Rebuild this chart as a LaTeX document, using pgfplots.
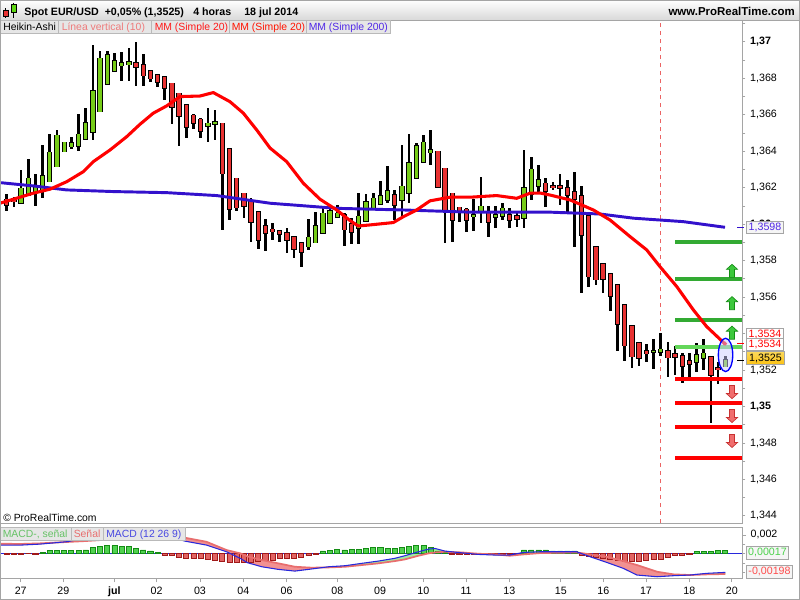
\documentclass[border=0pt]{standalone}
\usepackage{pgfplots}
\pgfplotsset{compat=1.18}
\usepackage{pgfplotstable}
\usepackage{fontspec}
\setmainfont{Liberation Sans}

\definecolor{hagreen}{RGB}{118,204,24}
\definecolor{hared}{RGB}{232,50,50}
\definecolor{mablue}{RGB}{51,17,204}
\definecolor{lgreen}{RGB}{51,170,51}
\definecolor{lgreen2}{RGB}{100,215,90}
\definecolor{axgray}{RGB}{165,165,165}
\definecolor{vline}{RGB}{235,100,100}
\definecolor{boxfill}{RGB}{230,230,230}
\definecolor{boxgray}{RGB}{185,185,185}
\definecolor{macdblue}{RGB}{40,40,220}
\definecolor{sigred}{RGB}{232,110,110}
\definecolor{pinkfill}{RGB}{242,145,145}
\definecolor{greenfill}{RGB}{160,235,160}
\definecolor{hgdark}{RGB}{20,140,20}
\definecolor{hglight}{RGB}{80,210,80}
\definecolor{hrdark}{RGB}{160,25,25}
\definecolor{hrlight}{RGB}{225,100,100}
\definecolor{arrgreen}{RGB}{60,200,60}
\definecolor{arrgreendk}{RGB}{20,140,20}
\definecolor{arrred}{RGB}{240,110,110}
\definecolor{arrreddk}{RGB}{200,50,50}
\definecolor{violettxt}{RGB}{80,40,230}
\definecolor{gold}{RGB}{250,200,20}

\pgfdeclareplotmark{uparr}{%
  \pgfpathmoveto{\pgfqpoint{0pt}{4.9pt}}%
  \pgfpathlineto{\pgfqpoint{4.2pt}{1.1pt}}%
  \pgfpathlineto{\pgfqpoint{1.9pt}{1.1pt}}%
  \pgfpathlineto{\pgfqpoint{1.9pt}{-4.9pt}}%
  \pgfpathlineto{\pgfqpoint{-1.9pt}{-4.9pt}}%
  \pgfpathlineto{\pgfqpoint{-1.9pt}{1.1pt}}%
  \pgfpathlineto{\pgfqpoint{-4.2pt}{1.1pt}}%
  \pgfpathclose\pgfusepathqfillstroke}
\pgfdeclareplotmark{dnarr}{%
  \pgfpathmoveto{\pgfqpoint{0pt}{-4.9pt}}%
  \pgfpathlineto{\pgfqpoint{4.2pt}{-1.1pt}}%
  \pgfpathlineto{\pgfqpoint{1.9pt}{-1.1pt}}%
  \pgfpathlineto{\pgfqpoint{1.9pt}{4.9pt}}%
  \pgfpathlineto{\pgfqpoint{-1.9pt}{4.9pt}}%
  \pgfpathlineto{\pgfqpoint{-1.9pt}{-1.1pt}}%
  \pgfpathlineto{\pgfqpoint{-4.2pt}{-1.1pt}}%
  \pgfpathclose\pgfusepathqfillstroke}
\pgfdeclareplotmark{ell}{%
  \pgfpathellipse{\pgfpointorigin}{\pgfqpoint{5.4pt}{0pt}}{\pgfqpoint{0pt}{12.5pt}}%
  \pgfusepathqfillstroke}

% Heikin-Ashi candles: index, open, high, low, close
\pgfplotstableread{
i o h l c
3 1.36118 1.36298 1.36115 1.36197
4 1.36161 1.36356 1.36155 1.36252
5 1.36179 1.36274 1.36102 1.36206
6 1.36179 1.36435 1.36146 1.36265
7 1.36234 1.36495 1.36234 1.36395
8 1.36316 1.36517 1.36316 1.36488
9 1.36398 1.36453 1.36395 1.36449
10 1.36426 1.36477 1.36413 1.36448
11 1.36431 1.36605 1.36404 1.36493
12 1.36466 1.36636 1.36462 1.36554
13 1.36508 1.36983 1.36462 1.36731
14 1.36618 1.36950 1.36618 1.36910
15 1.36768 1.36950 1.36768 1.36928
16 1.36842 1.36943 1.36842 1.36897
17 1.36870 1.36943 1.36788 1.36885
18 1.36875 1.36970 1.36786 1.36890
29 1.36541 1.36641 1.36453 1.36554
30 1.36548 1.36627 1.36462 1.36561
43 1.35877 1.36027 1.35859 1.35928
44 1.35899 1.36065 1.35899 1.35992
45 1.35950 1.36096 1.35950 1.36060
46 1.36005 1.36100 1.36005 1.36073
47 1.36038 1.36104 1.36038 1.36060
50 1.35978 1.36175 1.35892 1.36045
51 1.36018 1.36166 1.36014 1.36124
52 1.36082 1.36175 1.36078 1.36142
53 1.36111 1.36237 1.36111 1.36157
54 1.36133 1.36320 1.36115 1.36182
56 1.36133 1.36435 1.36042 1.36208
57 1.36170 1.36493 1.36115 1.36338
58 1.36252 1.36448 1.36252 1.36429
59 1.36340 1.36493 1.36340 1.36449
60 1.36394 1.36517 1.36325 1.36411
66 1.36042 1.36139 1.35965 1.36051
67 1.36067 1.36261 1.36005 1.36100
69 1.36038 1.36100 1.35978 1.36051
70 1.36045 1.36115 1.36023 1.36087
73 1.36032 1.36407 1.35978 1.36197
74 1.36164 1.36367 1.36133 1.36301
75 1.36210 1.36325 1.36170 1.36243
91 1.35299 1.35369 1.35204 1.35307
92 1.35298 1.35405 1.35274 1.35314
97 1.35243 1.35347 1.35191 1.35283
98 1.35265 1.35369 1.35201 1.35292
101 1.35219 1.35277 1.35219 1.35255
}\greencandles

\pgfplotstableread{
i o h l c
1 1.36137 1.36166 1.36075 1.36106
2 1.36142 1.36151 1.36097 1.36124
19 1.36885 1.36998 1.36760 1.36861
20 1.36874 1.36934 1.36760 1.36815
21 1.36844 1.36846 1.36782 1.36800
22 1.36822 1.36822 1.36751 1.36782
23 1.36808 1.36813 1.36682 1.36746
24 1.36773 1.36777 1.36550 1.36645
25 1.36718 1.36722 1.36431 1.36594
26 1.36658 1.36660 1.36475 1.36535
27 1.36599 1.36603 1.36523 1.36554
28 1.36576 1.36581 1.36475 1.36513
31 1.36554 1.36554 1.35968 1.36279
32 1.36416 1.36422 1.36023 1.36084
33 1.36252 1.36256 1.36073 1.36091
34 1.36170 1.36173 1.36033 1.36100
35 1.36128 1.36142 1.35905 1.36011
36 1.36066 1.36069 1.35864 1.35914
37 1.35990 1.36029 1.35855 1.35950
38 1.35972 1.36005 1.35917 1.35959
39 1.35965 1.35969 1.35905 1.35947
40 1.35954 1.35978 1.35844 1.35914
41 1.35932 1.35936 1.35817 1.35864
42 1.35899 1.35905 1.35767 1.35846
48 1.36051 1.36060 1.35882 1.35972
49 1.36005 1.36032 1.35892 1.35958
55 1.36160 1.36188 1.36023 1.36106
61 1.36400 1.36404 1.36206 1.36206
62 1.36307 1.36307 1.35895 1.36078
63 1.36170 1.36173 1.35905 1.36023
64 1.36093 1.36096 1.36014 1.36069
65 1.36082 1.36087 1.35956 1.36023
68 1.36064 1.36100 1.35928 1.36014
71 1.36051 1.36091 1.35978 1.36023
72 1.36045 1.36069 1.35987 1.36029
76 1.36224 1.36252 1.36096 1.36182
77 1.36210 1.36234 1.36188 1.36202
78 1.36210 1.36276 1.36106 1.36197
79 1.36201 1.36246 1.36056 1.36160
80 1.36179 1.36285 1.35877 1.36137
81 1.36157 1.36210 1.35625 1.35941
82 1.36047 1.36051 1.35654 1.35713
83 1.35877 1.35881 1.35667 1.35698
84 1.35782 1.35786 1.35625 1.35698
85 1.35727 1.35731 1.35526 1.35607
86 1.35667 1.35670 1.35307 1.35453
87 1.35557 1.35561 1.35252 1.35334
88 1.35442 1.35446 1.35213 1.35274
89 1.35352 1.35356 1.35223 1.35265
90 1.35307 1.35343 1.35246 1.35292
93 1.35307 1.35356 1.35164 1.35270
94 1.35288 1.35332 1.35173 1.35270
95 1.35277 1.35296 1.35127 1.35223
96 1.35250 1.35296 1.35160 1.35233
99 1.35274 1.35277 1.34912 1.35173
100 1.35215 1.35246 1.35127 1.35204
}\redcandles

% MM (Simple 20)
\pgfplotstableread{
x y
0.07 1.36115
4.70 1.36170
7.03 1.36192
9.35 1.36233
11.66 1.36288
13.05 1.36343
15.38 1.36407
17.70 1.36480
19.55 1.36548
21.40 1.36609
23.27 1.36649
25.12 1.36700
27.90 1.36703
29.75 1.36722
32.07 1.36672
33.93 1.36609
35.79 1.36517
37.64 1.36418
39.96 1.36343
42.27 1.36225
44.60 1.36137
46.92 1.36078
48.77 1.36020
49.93 1.35990
51.56 1.35996
54.80 1.36009
56.19 1.36041
58.05 1.36078
59.90 1.36128
62.69 1.36148
65.47 1.36148
69.19 1.36157
71.97 1.36142
73.82 1.36170
75.22 1.36171
76.60 1.36160
79.40 1.36133
82.63 1.36078
84.96 1.36023
87.74 1.35932
90.06 1.35859
91.91 1.35767
94.24 1.35658
96.55 1.35530
98.41 1.35438
100.72 1.35352
100.96 1.35340
}\mmtwenty

% MM (Simple 200)
\pgfplotstableread{
x y
0.07 1.36228
4.70 1.36210
9.35 1.36188
15.83 1.36179
23.27 1.36173
30.22 1.36157
37.64 1.36115
46.92 1.36087
56.19 1.36078
65.47 1.36066
76.60 1.36066
83.56 1.36056
88.20 1.36033
95.15 1.36014
100.96 1.35983
}\mmtwohundred

% MACD (12 26 9)
\pgfplotstableread{
x y
0.07 0.00092
3 0.00092
5.6 0.00102
9.4 0.00128
12 0.00165
15 0.00212
18 0.00238
21 0.00225
23 0.00195
25.8 0.00134
28.8 0.00092
31.6 0.00021
33.5 -0.00049
34.5 -0.00095
36.5 -0.00138
38.8 -0.00166
41.1 -0.00184
43.4 -0.00162
45.8 -0.00138
48.1 -0.00127
50.4 -0.00102
52.7 -0.00078
55.0 -0.00049
56.4 -0.00021
58.3 0.00021
59.7 0.00049
60.6 0.00056
62.0 0.00028
64.3 0.00010
66.6 -0.00007
69.0 -0.00014
71.0 -0.00014
72.9 0.00014
75.2 0.00021
80.3 0.00021
82.2 -0.00032
84.5 -0.00092
86.8 -0.00155
88.7 -0.00226
91.5 -0.00244
93.8 -0.00233
96.1 -0.00226
98.4 -0.00208
101 -0.00198
}\macdline

% Signal
\pgfplotstableread{
x y
0.07 0.00106
3 0.00104
5.6 0.00110
9.4 0.00125
12 0.00135
15 0.00150
18 0.00170
21 0.00185
23 0.00188
25.8 0.00170
28.8 0.00127
31.6 0.00039
33.5 0.00004
34.5 -0.00028
36.5 -0.00067
38.8 -0.00102
41.1 -0.00138
43.4 -0.00148
45.8 -0.00145
48.1 -0.00138
50.4 -0.00120
52.7 -0.00102
55.0 -0.00078
56.4 -0.00060
58.3 -0.00021
59.7 0.00004
60.6 0.00014
62.0 0.00021
64.3 0.00014
66.6 0.00000
69.0 -0.00007
71.0 -0.00021
72.9 -0.00007
75.2 0.00007
80.3 0.00014
82.2 -0.00007
84.5 -0.00032
86.8 -0.00078
88.7 -0.00120
91.5 -0.00191
93.8 -0.00219
96.1 -0.00226
98.4 -0.00219
101 -0.00215
}\signalline

% MACD - signal histogram
\pgfplotstableread{
x y
1 -0.00007
2 -0.00007
3 -0.00007
4 0
5 -0.0001
6 0.0001
7 0.00035
8 0.00035
9 0.00035
10 0.00035
11 0.00035
12 0.0004
13 0.00064
14 0.0008
15 0.00085
16 0.00085
17 0.0008
18 0.0008
19 0.00056
20 0.0004
21 0.0003
22 0.0001
23 -0.0002
24 -0.0002
25 -0.0004
26 -0.0005
27 -0.0005
28 -0.0005
29 -0.0006
30 -0.00067
31 -0.00085
32 -0.0009
33 -0.0009
34 -0.0009
35 -0.0009
36 -0.00085
37 -0.00067
38 -0.00067
39 -0.0005
40 -0.0005
41 -0.0005
42 -0.0004
43 -0.0002
44 -0.0001
45 0.0003
46 0.00035
47 0.00046
48 0.0004
49 0.00042
50 0.0005
51 0.00056
52 0.00064
53 0.00064
54 0.00056
55 0.00056
56 0.00067
57 0.00074
58 0.00085
59 0.00085
60 0.0007
61 0.0003
62 0.0001
63 -0.0001
64 -0.0001
65 -0.0001
66 -0.0001
67 -0.0001
68 -0.0001
69 -0.0001
70 -0.0001
71 -0.0001
72 -0.00005
73 0.0004
74 0.0004
75 0.0004
76 0.0004
77 0.0003
78 0.0003
79 0.0003
80 0.0003
81 -0.0002
82 -0.0003
83 -0.0004
84 -0.0005
85 -0.0006
86 -0.0007
87 -0.00078
88 -0.00085
89 -0.00078
90 -0.0007
91 -0.00064
92 -0.00056
93 -0.0004
94 -0.0002
95 -0.00014
96 -0.0001
97 0.00028
98 0.00028
99 0.00028
100 0.00035
101 0.00035
}\histo

\pgfplotsset{
  wick/.style={draw=none, mark=none, forget plot,
    error bars/.cd, y dir=both, y explicit, error mark=none,
    error bar style={line width=2pt, draw=black}},
  bodyout/.style={draw=none, mark=none, forget plot,
    error bars/.cd, y dir=both, y explicit, error mark=none,
    error bar style={line width=4pt, draw=black}},
  bodyin/.style={draw=none, mark=none, forget plot,
    error bars/.cd, y dir=both, y explicit, error mark=none,
    error bar style={line width=2.5pt, draw=#1}},
}

\begin{document}
\begin{tikzpicture}
\useasboundingbox (0pt,0pt) rectangle (600pt,-450pt);
\begin{scope}[x=0.75pt,y=-0.75pt]
  \fill[white] (0,0) rectangle (800,600);
  \shade[top color=white, bottom color=black!15] (0,0) rectangle (800,20);
  % icon
  \draw[black, line width=0.6pt] (5.5,8) -- (5.5,17.5);
  \filldraw[fill=hared, draw=black, line width=0.5pt] (3,10.7) rectangle (8.3,16);
  \draw[black, line width=0.6pt] (13.8,2.5) -- (13.8,17.5);
  \filldraw[fill=hagreen!80!green, draw=black, line width=0.5pt] (11.2,4.7) rectangle (16.5,12.3);
  \node[anchor=base west, inner sep=0pt, font=\fontsize{8}{9.6}\selectfont\bfseries] at (24,15) {Spot EUR/USD};
  \node[anchor=base west, inner sep=0pt, font=\fontsize{8}{9.6}\selectfont\bfseries] at (104.5,15) {+0,05\% (1,3525)};
  \node[anchor=base west, inner sep=0pt, font=\fontsize{8}{9.6}\selectfont\bfseries] at (193,15) {4 horas};
  \node[anchor=base west, inner sep=0pt, font=\fontsize{8}{9.6}\selectfont\bfseries] at (244,15) {18 jul 2014};
  \node[anchor=base east, inner sep=0pt, font=\fontsize{8.6}{9.6}\selectfont\bfseries] at (795,15) {www.ProRealTime.com};
  \draw[axgray, line width=0.75pt] (0,20) -- (800,20);
\end{scope}

\begin{axis}[
  at={(0pt,-15pt)}, anchor=north west,
  scale only axis, width=556.5pt, height=377.25pt,
  xmin=0.07, xmax=103.32, ymin=1.34361, ymax=1.37120,
  axis line style={axgray, line width=0.75pt},
  xtick=\empty,
  ytick={1.344,1.346,1.348,1.35,1.352,1.354,1.356,1.358,1.36,1.362,1.364,1.366,1.368,1.37},
  yticklabels={{1{,}344},{1{,}346},{1{,}348},{\textbf{1{,}35}},{1{,}352},{1{,}354},{1{,}356},{1{,}358},{\textbf{1{,}36}},{1{,}362},{1{,}364},{1{,}366},{1{,}368},{\textbf{1{,}37}}},
  minor ytick={1.345,1.347,1.349,1.351,1.353,1.355,1.357,1.359,1.361,1.363,1.365,1.367,1.369,1.371},
  ytick pos=right, yticklabel pos=right,
  tick align=outside, major tick length=2.6pt, minor tick length=2.6pt,
  tick style={axgray, line width=0.6pt},
  yticklabel style={font=\fontsize{8}{9}\selectfont, text=black},
]
% Linea vertical
\addplot[vline, line width=0.75pt, dash pattern=on 3pt off 3pt, forget plot] coordinates {(91.91,1.3436) (91.91,1.3712)};
% wicks
\addplot[wick] table[x=i, y expr=(\thisrow{h}+\thisrow{l})/2, y error expr=(\thisrow{h}-\thisrow{l})/2] {\greencandles};
\addplot[wick] table[x=i, y expr=(\thisrow{h}+\thisrow{l})/2, y error expr=(\thisrow{h}-\thisrow{l})/2] {\redcandles};
% body outlines
\addplot[bodyout] table[x=i, y expr=(\thisrow{o}+\thisrow{c})/2, y error expr=abs(\thisrow{c}-\thisrow{o})/2+0.00004] {\greencandles};
\addplot[bodyout] table[x=i, y expr=(\thisrow{o}+\thisrow{c})/2, y error expr=abs(\thisrow{c}-\thisrow{o})/2+0.00004] {\redcandles};
% body fills
\addplot[bodyin=hagreen] table[x=i, y expr=(\thisrow{o}+\thisrow{c})/2, y error expr=abs(\thisrow{c}-\thisrow{o})/2] {\greencandles};
\addplot[bodyin=hared] table[x=i, y expr=(\thisrow{o}+\thisrow{c})/2, y error expr=abs(\thisrow{c}-\thisrow{o})/2] {\redcandles};
% horizontal levels
\addplot[lgreen, line width=3pt] coordinates {(94.0,1.35904) (103.32,1.35904)};
\addplot[lgreen, line width=3pt] coordinates {(94.0,1.35701) (103.32,1.35701)};
\addplot[lgreen, line width=3pt] coordinates {(94.0,1.35475) (103.32,1.35475)};
\addplot[lgreen2, line width=3pt] coordinates {(94.0,1.35327) (103.32,1.35327)};
\addplot[red, line width=3pt] coordinates {(94.0,1.35153) (103.32,1.35153)};
\addplot[red, line width=3pt] coordinates {(94.0,1.35020) (103.32,1.35020)};
\addplot[red, line width=3pt] coordinates {(94.0,1.34886) (103.32,1.34886)};
\addplot[red, line width=3pt] coordinates {(94.0,1.34716) (103.32,1.34716)};
% arrows
\addplot[only marks, mark=uparr, mark options={fill=arrgreen, draw=arrgreendk, line width=0.5pt}] coordinates {(101.93,1.35744) (101.93,1.35567) (101.93,1.35405)};
\addplot[only marks, mark=dnarr, mark options={fill=arrred, draw=arrreddk, line width=0.5pt}] coordinates {(101.93,1.35079) (101.93,1.34948) (101.93,1.34811)};
% moving averages
\addplot[mablue, line width=2.2pt, line join=round] table[x=x,y=y] {\mmtwohundred};
\addplot[red, line width=2.3pt, line join=round] table[x=x,y=y] {\mmtwenty};
\addplot[only marks, mark=*, mark size=1.3pt, red] coordinates {(100.96,1.35345)};
% ellipse
\addplot[only marks, mark=ell, mark options={fill=blue!20, fill opacity=0.5, draw=blue, line width=1pt}] coordinates {(101.03,1.35283)};
\end{axis}

\begin{axis}[
  at={(0pt,-395.8pt)}, anchor=north west,
  scale only axis, width=556.5pt, height=37.95pt,
  xmin=0.07, xmax=103.32, ymin=-0.00261, ymax=0.00276,
  axis line style={axgray, line width=0.75pt},
  xtick={2.95,8.88,15.97,21.87,27.9,33.93,39.96,47.0,52.95,58.97,64.92,70.94,78.1,84.02,89.96,95.99,101.9},
  xticklabels={27,29,\textbf{jul},02,03,04,06,08,09,10,11,13,15,16,17,18,20},
  xtick pos=left,
  ytick={0.002}, yticklabels={0{,}002},
  minor ytick={0.001,0,-0.001,-0.002},
  ytick pos=right, yticklabel pos=right,
  tick align=outside, major tick length=3pt, minor tick length=2.6pt,
  tick style={axgray, line width=0.6pt},
  ticklabel style={font=\fontsize{8}{9}\selectfont, text=black},
  scaled y ticks=false,
]
% band between MACD and signal (MACD forward, signal backward)
\addplot[fill=pinkfill, draw=none, forget plot] coordinates {(0.07,0.00092) (3,0.00092) (5.6,0.00102) (8.4,0.00121) (5.6,0.00110) (3,0.00104) (0.07,0.00106)};
\addplot[fill=greenfill, draw=none, forget plot] coordinates {(8.4,0.00121) (9.4,0.00128) (12,0.00165) (15,0.00212) (18,0.00238) (21,0.00225) (23,0.00195) (23.46,0.00185) (23,0.00188) (21,0.00185) (18,0.0017) (15,0.0015) (12,0.00135) (9.4,0.00125)};
\addplot[fill=pinkfill, draw=none, forget plot] coordinates {(23.46,0.00185) (25.8,0.00134) (28.8,0.00092) (31.6,0.00021) (33.5,-0.00049) (34.5,-0.00095) (36.5,-0.00138) (38.8,-0.00166) (41.1,-0.00184) (43.4,-0.00162) (45.0,-0.00146) (43.4,-0.00148) (41.1,-0.00138) (38.8,-0.00102) (36.5,-0.00067) (34.5,-0.00028) (33.5,0.00004) (31.6,0.00039) (28.8,0.00127) (25.8,0.0017)};
\addplot[fill=greenfill, draw=none, forget plot] coordinates {(45.0,-0.00146) (45.8,-0.00138) (48.1,-0.00127) (50.4,-0.00102) (52.7,-0.00078) (55,-0.00049) (56.4,-0.00021) (58.3,0.00021) (59.7,0.00049) (60.6,0.00056) (62,0.00028) (63.46,0.00017) (62,0.00021) (60.6,0.00014) (59.7,0.00004) (58.3,-0.00021) (56.4,-0.0006) (55,-0.00078) (52.7,-0.00102) (50.4,-0.0012) (48.1,-0.00138) (45.8,-0.00145)};
\addplot[fill=pinkfill, draw=none, forget plot] coordinates {(63.46,0.00017) (64.3,0.0001) (66.6,-0.00007) (69,-0.00014) (70,-0.00014) (69,-0.00007) (66.6,0) (64.3,0.00014)};
\addplot[fill=greenfill, draw=none, forget plot] coordinates {(70,-0.00014) (71,-0.00014) (72.9,0.00014) (75.2,0.00021) (80.3,0.00021) (80.72,0.00009) (80.3,0.00014) (75.2,0.00007) (72.9,-0.00007) (71,-0.00021)};
\addplot[fill=pinkfill, draw=none, forget plot] coordinates {(80.72,0.00009) (82.2,-0.00032) (84.5,-0.00092) (86.8,-0.00155) (88.7,-0.00226) (91.5,-0.00244) (93.8,-0.00233) (96.1,-0.00226) (93.8,-0.00219) (91.5,-0.00191) (88.7,-0.0012) (86.8,-0.00078) (84.5,-0.00032) (82.2,-0.00007)};
\addplot[fill=greenfill, draw=none, forget plot] coordinates {(96.1,-0.00226) (98.4,-0.00208) (101,-0.00198) (101,-0.00215) (98.4,-0.00219)};
% zero line
\addplot[macdblue, line width=0.75pt, forget plot] coordinates {(0.07,0) (103.32,0)};
% histogram
\addplot[ybar, bar width=3.8pt, bar shift=0pt, fill=hglight, draw=hgdark, line width=0.6pt, restrict y to domain=0:1] table[x=x,y=y] {\histo};
\addplot[ybar, bar width=3.8pt, bar shift=0pt, fill=hrlight, draw=hrdark, line width=0.6pt, restrict y to domain=-1:0] table[x=x,y=y] {\histo};
\addplot[sigred, line width=1.3pt] table[x=x,y=y] {\signalline};
\addplot[macdblue, line width=0.8pt] table[x=x,y=y] {\macdline};
\end{axis}

\begin{scope}[x=0.75pt,y=-0.75pt]
  % legend row main
  \filldraw[fill=boxfill, draw=boxgray, line width=0.5pt] (0.5,20.7) rectangle (58.3,33.3);
  \filldraw[fill=boxfill, draw=boxgray, line width=0.5pt] (58.3,20.7) rectangle (151.7,33.3);
  \filldraw[fill=boxfill, draw=boxgray, line width=0.5pt] (151.7,20.7) rectangle (229,33.3);
  \filldraw[fill=boxfill, draw=boxgray, line width=0.5pt] (229,20.7) rectangle (306,33.3);
  \filldraw[fill=boxfill, draw=boxgray, line width=0.5pt] (306,20.7) rectangle (390,33.3);
  \begin{scope}[every node/.style={anchor=base west, inner sep=0pt, font=\fontsize{7.8}{9}\selectfont}]
    \node[text=black] at (3,30.7) {Heikin-Ashi};
    \node[text=vline!85!white] at (61.5,30.7) {Línea vertical (10)};
    \node[text=red!90!white] at (154.5,30.7) {MM (Simple 20)};
    \node[text=red!85!orange] at (231.5,30.7) {MM (Simple 20)};
    \node[text=violettxt] at (308.5,30.7) {MM (Simple 200)};
    \node[text=black] at (3,521.5) {\textcopyright\ ProRealTime.com};
  \end{scope}
  % legend row MACD
  \filldraw[fill=boxfill, draw=boxgray, line width=0.5pt] (0.5,527.7) rectangle (71,540.3);
  \filldraw[fill=boxfill, draw=boxgray, line width=0.5pt] (71,527.7) rectangle (103.3,540.3);
  \filldraw[fill=boxfill, draw=boxgray, line width=0.5pt] (103.3,527.7) rectangle (185,540.3);
  \begin{scope}[every node/.style={anchor=base west, inner sep=0pt, font=\fontsize{7.8}{9}\selectfont}]
    \node[text=green!60!black!60!white] at (2.5,537.8) {MACD-, señal};
    \node[text=sigred] at (73.5,537.8) {Señal};
    \node[text=macdblue!85!white] at (106,537.8) {MACD (12 26 9)};
  \end{scope}
  % right value boxes
  \begin{scope}[every node/.style={draw=axgray, line width=0.6pt, inner sep=0pt, minimum height=9.6pt, font=\fontsize{8}{9}\selectfont}]
    \draw[mablue, line width=0.8pt] (737,227.3) -- (744,227.3);
    \draw[red, line width=0.8pt] (737,343.5) -- (744,343.5);
    \draw[black, line width=0.8pt] (737,360.5) -- (744,360.5);
    \node[fill=black!4, text=violettxt, minimum width=27.5pt] at (765,227.3) {1,3598};
    \node[fill=white, text=red, minimum width=27.5pt] at (765,334.3) {1,3534};
    \node[fill=white, text=red, minimum width=27.5pt] at (765,344.3) {1,3534};
    \node[top color=gold!70!white, bottom color=gold!90!orange, text=black, minimum width=28pt] at (765.5,358.2) {1,3525};
    \node[fill=black!4, text=green!75!black!70!white, minimum width=31.5pt] at (767.5,552.5) {0,00017};
    \node[fill=black!4, text=red!70!white, minimum width=34pt] at (769.5,571.5) {-0,00198};
  \end{scope}
  \draw[axgray, line width=0.75pt] (0.4,0.4) rectangle (799.6,599.6);
\end{scope}
\end{tikzpicture}
\end{document}
